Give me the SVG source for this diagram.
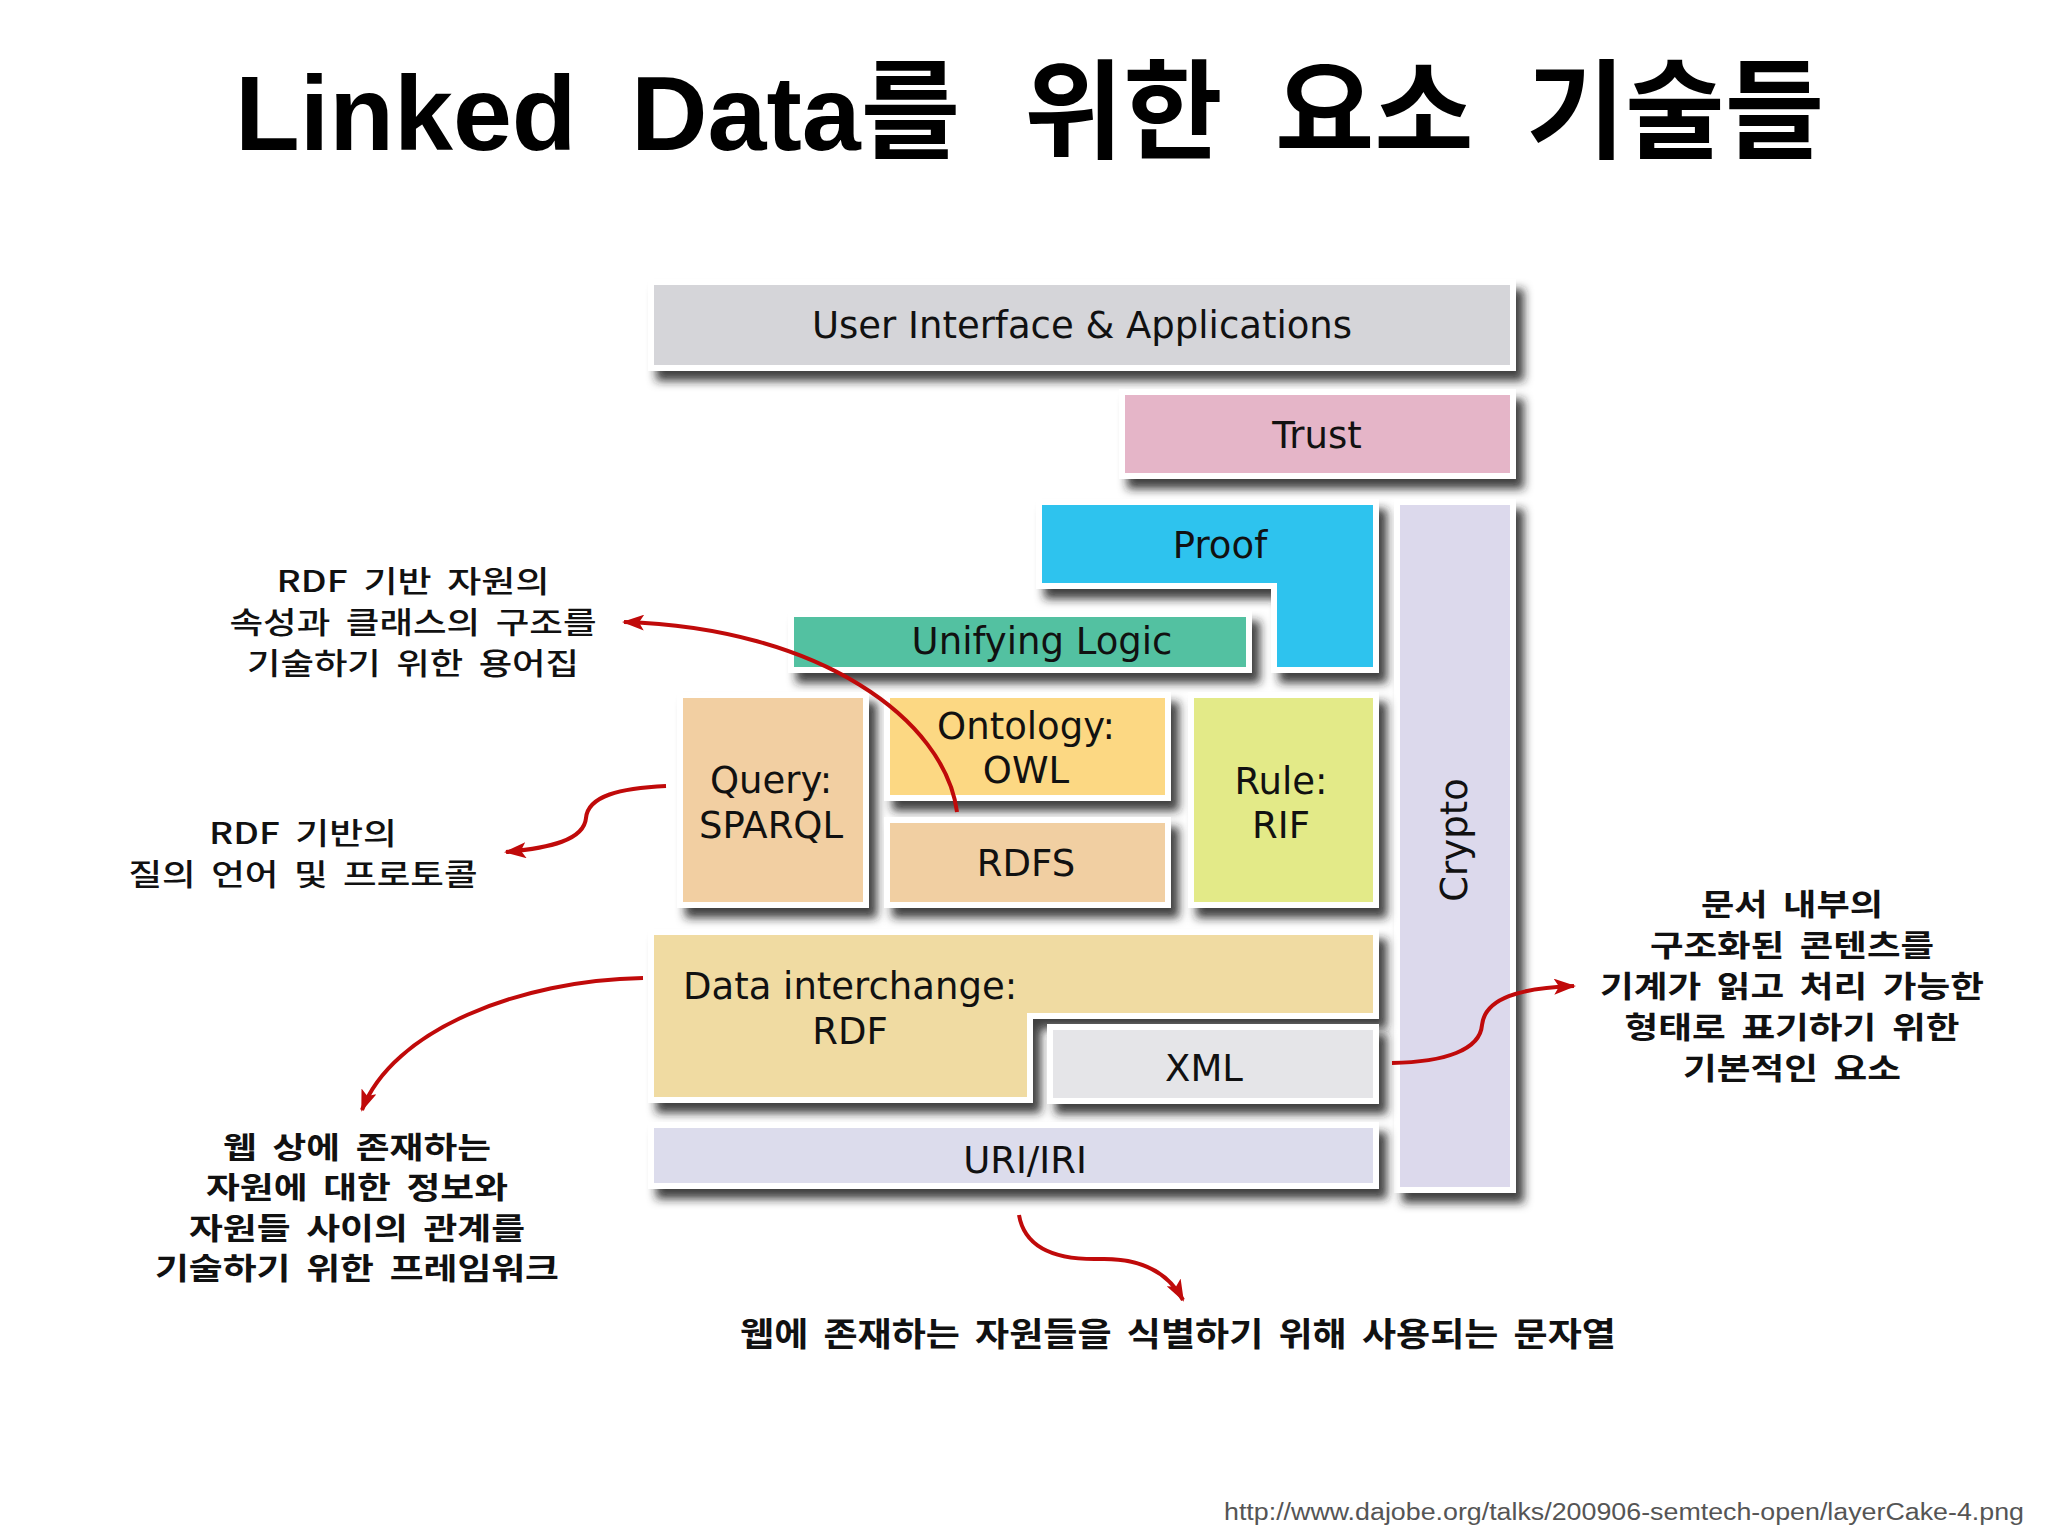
<svg xmlns="http://www.w3.org/2000/svg" width="2048" height="1536" viewBox="0 0 2048 1536">
<defs>
<style>
.box{stroke:#ffffff;stroke-width:6;filter:url(#sh)}
.lbl{font-family:"DejaVu Sans","Liberation Sans",sans-serif;font-size:37px;fill:#111111;text-anchor:middle}
.ann{font-family:"Noto Sans CJK KR","Liberation Sans",sans-serif;font-size:30px;fill:#111111;text-anchor:middle;word-spacing:6px}
.annm{font-weight:500}
.annb{font-weight:700}
.arr{fill:none;stroke:#c00a0a;stroke-width:4;marker-end:url(#ah)}
</style>
<filter id="sh" x="-20%" y="-50%" width="140%" height="200%">
<feDropShadow dx="8" dy="10" stdDeviation="5" flood-color="#222222" flood-opacity="0.85"/>
</filter>
<marker id="ah" markerUnits="userSpaceOnUse" viewBox="0 0 22 16" refX="20" refY="8" markerWidth="22" markerHeight="16" orient="auto">
<path d="M0,0 L22,8 L0,16 L5,8 Z" fill="#c00a0a"/>
</marker>
</defs>
<rect width="2048" height="1536" fill="#ffffff"/>

<text id="title" y="150" font-family="Liberation Sans,Noto Sans CJK KR,sans-serif" font-weight="700" font-size="106" fill="#000000"><tspan x="235">Linked </tspan><tspan x="631">Data<tspan font-size="108">를 </tspan></tspan><tspan x="1024" font-size="108">위한 </tspan><tspan x="1275" font-size="108">요소 </tspan><tspan x="1526" font-size="108">기술들</tspan></text>

<g id="ui"><rect class="box" x="651" y="282" width="862" height="86" fill="#d5d5d9"/><text class="lbl" x="1082" y="338">User Interface &amp; Applications</text></g>
<g id="trust"><rect class="box" x="1122" y="392" width="391" height="84" fill="#e5b5c8"/><text class="lbl" x="1317" y="448">Trust</text></g>
<g id="proof"><path class="box" d="M1039,502 H1376 V670 H1274 V586 H1039 Z" fill="#2dc3ee"/><text class="lbl" x="1220" y="558">Proof</text></g>
<g id="crypto"><rect class="box" x="1397" y="502" width="116" height="688" fill="#dcd9ec"/><text class="lbl" transform="translate(1467,840) rotate(-90)">Crypto</text></g>
<g id="logic"><rect class="box" x="791" y="614" width="458" height="56" fill="#52c1a1"/><text class="lbl" x="1042" y="654">Unifying Logic</text></g>
<g id="query"><rect class="box" x="680" y="695" width="186" height="210" fill="#f2cfa2"/><text class="lbl" x="771" y="793">Query:</text><text class="lbl" x="771" y="838">SPARQL</text></g>
<g id="owl"><rect class="box" x="887" y="695" width="281" height="103" fill="#fcd883"/><text class="lbl" x="1026" y="739">Ontology:</text><text class="lbl" x="1026" y="783">OWL</text></g>
<g id="rdfs"><rect class="box" x="887" y="820" width="281" height="85" fill="#f1cfa2"/><text class="lbl" x="1026" y="876">RDFS</text></g>
<g id="rule"><rect class="box" x="1191" y="695" width="185" height="210" fill="#e3ea88"/><text class="lbl" x="1281" y="794">Rule:</text><text class="lbl" x="1281" y="838">RIF</text></g>
<g id="rdf"><path class="box" d="M651,932 H1376 V1016 H1030 V1100 H651 Z" fill="#f0dba2"/><text class="lbl" x="683" y="999" style="text-anchor:start">Data interchange:</text><text class="lbl" x="850" y="1044">RDF</text></g>
<g id="xml"><rect class="box" x="1050" y="1027" width="326" height="74" fill="#e5e5e8"/><text class="lbl" x="1204" y="1081">XML</text></g>
<g id="uri"><rect class="box" x="651" y="1125" width="725" height="61" fill="#dcdcec"/><text class="lbl" x="1025" y="1173">URI/IRI</text></g>

<g id="connectors">
<path class="arr" d="M957,812 C945,720 820,628 624,622"/>
<path class="arr" d="M666,786 C620,788 588,796 586,818 C584,840 550,848 506,852"/>
<path class="arr" d="M643,978 C520,980 392,1030 362,1110"/>
<path class="arr" d="M1392,1063 C1445,1062 1480,1050 1482,1025 C1485,998 1520,988 1574,986"/>
<path class="arr" d="M1019,1215 C1025,1250 1060,1260 1100,1259 C1140,1258 1168,1272 1183,1300"/>
</g>

<g id="note-rdfs">
<text class="ann annm" x="413" y="592" textLength="273" lengthAdjust="spacingAndGlyphs">RDF 기반 자원의</text>
<text class="ann annm" x="413" y="633" textLength="367" lengthAdjust="spacingAndGlyphs">속성과 클래스의 구조를</text>
<text class="ann annm" x="413" y="674" textLength="332" lengthAdjust="spacingAndGlyphs">기술하기 위한 용어집</text>
</g>
<g id="note-sparql">
<text class="ann annm" x="303" y="844" textLength="188" lengthAdjust="spacingAndGlyphs">RDF 기반의</text>
<text class="ann annm" x="303" y="885" textLength="349" lengthAdjust="spacingAndGlyphs">질의 언어 및 프로토콜</text>
</g>
<g id="note-rdf">
<text class="ann annb" x="357" y="1158" textLength="268" lengthAdjust="spacingAndGlyphs">웹 상에 존재하는</text>
<text class="ann annb" x="357" y="1198" textLength="302" lengthAdjust="spacingAndGlyphs">자원에 대한 정보와</text>
<text class="ann annb" x="357" y="1239" textLength="336" lengthAdjust="spacingAndGlyphs">자원들 사이의 관계를</text>
<text class="ann annb" x="357" y="1279" textLength="404" lengthAdjust="spacingAndGlyphs">기술하기 위한 프레임워크</text>
</g>
<g id="note-xml">
<text class="ann annb" x="1792" y="915" textLength="182" lengthAdjust="spacingAndGlyphs">문서 내부의</text>
<text class="ann annb" x="1792" y="956" textLength="284" lengthAdjust="spacingAndGlyphs">구조화된 콘텐츠를</text>
<text class="ann annb" x="1792" y="997" textLength="384" lengthAdjust="spacingAndGlyphs">기계가 읽고 처리 가능한</text>
<text class="ann annb" x="1792" y="1038" textLength="335" lengthAdjust="spacingAndGlyphs">형태로 표기하기 위한</text>
<text class="ann annb" x="1792" y="1079" textLength="218" lengthAdjust="spacingAndGlyphs">기본적인 요소</text>
</g>
<g id="note-uri">
<text class="ann annb" x="1178" y="1346" style="font-size:33px" textLength="876" lengthAdjust="spacingAndGlyphs">웹에 존재하는 자원들을 식별하기 위해 사용되는 문자열</text>
</g>
<text id="source" x="1224" y="1520" font-family="Liberation Sans,sans-serif" font-size="23" fill="#555555" textLength="800" lengthAdjust="spacingAndGlyphs">http://www.dajobe.org/talks/200906-semtech-open/layerCake-4.png</text>
</svg>
